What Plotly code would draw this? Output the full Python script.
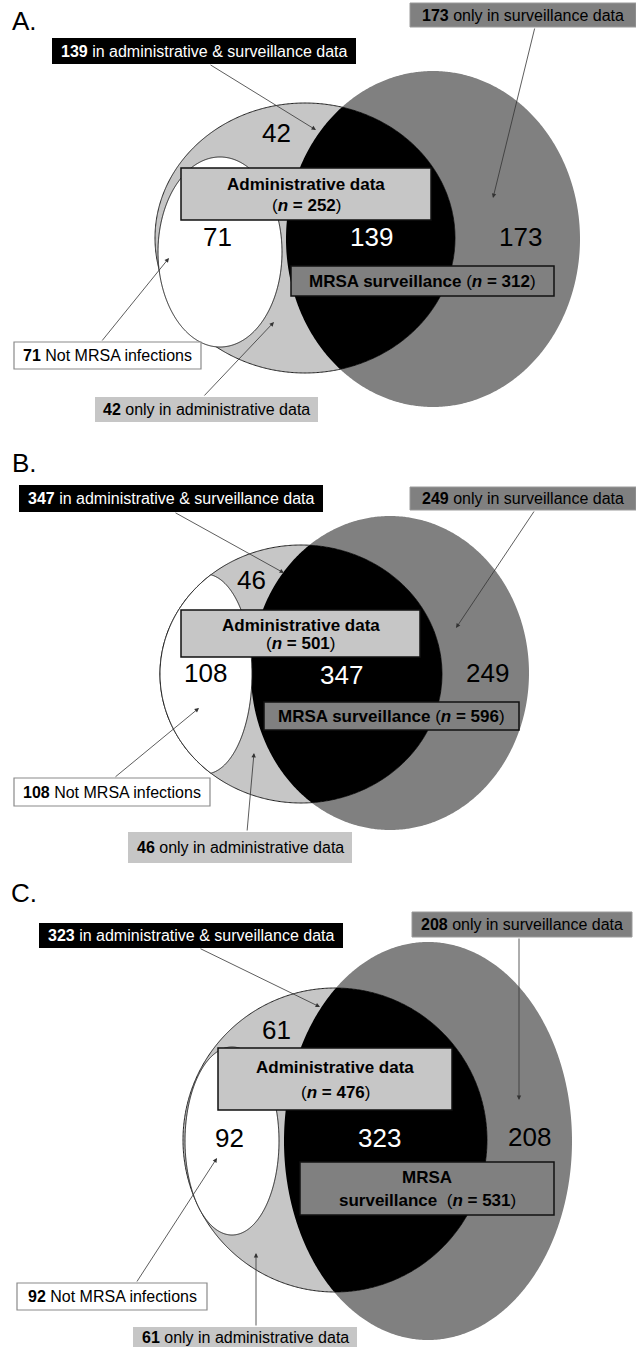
import numpy as np
import plotly.graph_objects as go

# ---------------- data ----------------
panel_labels = ["A.", "B.", "C."]
both_counts = [139, 347, 323]          # in administrative & surveillance data
surv_only_counts = [173, 249, 208]     # only in surveillance data
admin_only_counts = [42, 46, 61]       # only in administrative data
not_mrsa_counts = [71, 108, 92]        # not MRSA infections
admin_totals = [252, 501, 476]
surv_totals = [312, 596, 531]

# ---------------- layout geometry (pixels) ----------------
W, H = 636, 1347
GEOM = [
    dict(label=(24, 21),
         surv=(433, 239, 147, 168), admin=(305, 238, 150, 135), white=(220, 252, 62, 95), clip_white=False,
         n_admin=(276, 133), n_white=(217, 237), n_both=(371, 237), n_surv=(520, 237),
         box_both=(52, 38, 356, 64), box_surv=(410, 3, 636, 27),
         box_admin=(181, 168, 431, 220), box_mrsa=(291, 266, 554, 296), mrsa_split=False,
         box_white=(14, 342, 201, 369), box_aonly=(95, 397, 318, 422),
         arr_both=((209, 64), (316, 130)), arr_surv=((535, 27), (493, 198)),
         arr_white=((101, 342), (169, 258)), arr_aonly=((203, 397), (274, 322))),
    dict(label=(24, 463),
         surv=(390, 673, 139, 157), admin=(301, 674, 141, 129), white=(205, 674, 47, 100), clip_white=True,
         n_admin=(251, 580), n_white=(205, 673), n_both=(341, 675), n_surv=(487, 673),
         box_both=(19, 485, 323, 512), box_surv=(410, 487, 636, 510),
         box_admin=(181, 610, 420, 657), box_mrsa=(264, 702, 519, 730), mrsa_split=False,
         box_white=(14, 778, 210, 806), box_aonly=(128, 832, 352, 863),
         arr_both=((174, 512), (284, 573)), arr_surv=((535, 510), (456, 628)),
         arr_white=((114, 778), (199, 708)), arr_aonly=((247, 832), (254, 753))),
    dict(label=(24, 893),
         surv=(428, 1141, 144, 199), admin=(335, 1140, 152, 152), white=(232, 1141, 47, 94), clip_white=False,
         n_admin=(276, 1030), n_white=(229, 1138), n_both=(379, 1138), n_surv=(529, 1137),
         box_both=(39, 923, 343, 948), box_surv=(412, 912, 632, 937),
         box_admin=(218, 1048, 452, 1110), box_mrsa=(300, 1162, 554, 1215), mrsa_split=True,
         box_white=(17, 1283, 207, 1310), box_aonly=(133, 1327, 357, 1347),
         arr_both=((199, 948), (320, 1007)), arr_surv=((519, 937), (519, 1100)),
         arr_white=((136, 1283), (217, 1158)), arr_aonly=((256, 1327), (256, 1253))),
]

DARK = "#808080"
LIGHT = "#c6c6c6"
FONT = "Liberation Sans"
LINE = "#222222"
CALLOUT_SIZE = 16
BOX_SIZE = 17
COUNT_SIZE = 26


def ellipse_pts(e, n=720):
    cx, cy, rx, ry = e
    t = np.linspace(0, 2 * np.pi, n, endpoint=False)
    return np.c_[cx + rx * np.cos(t), cy + ry * np.sin(t)]


def inside(p, e):
    cx, cy, rx, ry = e
    return ((p[:, 0] - cx) / rx) ** 2 + ((p[:, 1] - cy) / ry) ** 2 <= 1.0


def intersect(e1, e2):
    p1, p2 = ellipse_pts(e1), ellipse_pts(e2)
    pts = np.vstack([p1[inside(p1, e2)], p2[inside(p2, e1)]])
    c = pts.mean(axis=0)
    ang = np.arctan2(pts[:, 1] - c[1], pts[:, 0] - c[0])
    return pts[np.argsort(ang)]


def to_path(pts):
    return "M " + " L ".join(f"{x:.2f},{y:.2f}" for x, y in pts) + " Z"


shapes, annots = [], []


def rect(b, fill, line_color=None, lw=1.0):
    shapes.append(dict(type="rect", x0=b[0], y0=b[1], x1=b[2], y1=b[3], xref="x", yref="y",
                       fillcolor=fill, line=dict(color=line_color or fill, width=lw if line_color else 0)))


def text(x, y, s, size, color="black"):
    annots.append(dict(x=x, y=y, xref="x", yref="y", text=s, showarrow=False,
                       font=dict(family=FONT, size=size, color=color), xanchor="center", yanchor="middle"))


def arrow(start, end, color="#333333"):
    annots.append(dict(x=end[0], y=end[1], ax=start[0], ay=start[1], xref="x", yref="y",
                       axref="x", ayref="y", text="", showarrow=True, arrowhead=2, arrowsize=1.1,
                       arrowwidth=0.8, arrowcolor=color, standoff=0, startstandoff=0))


for i, g in enumerate(GEOM):
    # regions
    shapes.append(dict(type="path", path=to_path(ellipse_pts(g["surv"])), fillcolor=DARK,
                       line=dict(width=0), xref="x", yref="y"))
    shapes.append(dict(type="path", path=to_path(ellipse_pts(g["admin"])), fillcolor=LIGHT,
                       line=dict(color=LINE, width=1), xref="x", yref="y"))
    shapes.append(dict(type="path", path=to_path(intersect(g["surv"], g["admin"])), fillcolor="black",
                       line=dict(width=0), xref="x", yref="y"))
    wpts = intersect(g["white"], g["admin"]) if g["clip_white"] else ellipse_pts(g["white"])
    shapes.append(dict(type="path", path=to_path(wpts), fillcolor="white",
                       line=dict(color=LINE, width=1), xref="x", yref="y"))

    # inside boxes
    rect(g["box_admin"], LIGHT, "#111111", 1.5)
    b = g["box_admin"]
    cx = (b[0] + b[2]) / 2
    h = b[3] - b[1]
    text(cx, b[1] + h * 0.32, "<b>Administrative data</b>", BOX_SIZE)
    text(cx, b[1] + h * 0.72, f"(<b><i>n</i> = {admin_totals[i]}</b>)", BOX_SIZE)

    rect(g["box_mrsa"], DARK, "#111111", 1.5)
    b = g["box_mrsa"]
    cx = (b[0] + b[2]) / 2
    h = b[3] - b[1]
    if g["mrsa_split"]:
        text(cx, b[1] + h * 0.3, "<b>MRSA</b>", BOX_SIZE)
        text(cx, b[1] + h * 0.72, f"<b>surveillance</b>  (<b><i>n</i> = {surv_totals[i]}</b>)", BOX_SIZE)
    else:
        text(cx, b[1] + h / 2, f"<b>MRSA surveillance</b> (<b><i>n</i> = {surv_totals[i]}</b>)", BOX_SIZE)

    # region counts
    text(*g["n_admin"], str(admin_only_counts[i]), COUNT_SIZE)
    text(*g["n_white"], str(not_mrsa_counts[i]), COUNT_SIZE)
    text(*g["n_both"], str(both_counts[i]), COUNT_SIZE, "white")
    text(*g["n_surv"], str(surv_only_counts[i]), COUNT_SIZE)

    # panel label
    text(*g["label"], panel_labels[i], 26)

    # callout boxes
    rect(g["box_both"], "black")
    b = g["box_both"]
    text((b[0] + b[2]) / 2, (b[1] + b[3]) / 2,
         f"<b>{both_counts[i]}</b> in administrative &amp; surveillance data", CALLOUT_SIZE, "white")
    rect(g["box_surv"], DARK, "#9a9a9a", 1)
    b = g["box_surv"]
    text((b[0] + b[2]) / 2, (b[1] + b[3]) / 2, f"<b>{surv_only_counts[i]}</b> only in surveillance data",
         CALLOUT_SIZE)
    rect(g["box_white"], "white", "#8a8a8a", 1.2)
    b = g["box_white"]
    text((b[0] + b[2]) / 2, (b[1] + b[3]) / 2, f"<b>{not_mrsa_counts[i]}</b> Not MRSA infections", CALLOUT_SIZE)
    rect(g["box_aonly"], LIGHT)
    b = g["box_aonly"]
    text((b[0] + b[2]) / 2, (b[1] + b[3]) / 2, f"<b>{admin_only_counts[i]}</b> only in administrative data",
         CALLOUT_SIZE)

    # leader lines
    arrow(*g["arr_both"])
    arrow(*g["arr_surv"])
    arrow(*g["arr_white"])
    arrow(*g["arr_aonly"])

fig = go.Figure()
fig.update_layout(
    width=W, height=H, margin=dict(l=0, r=0, t=0, b=0),
    paper_bgcolor="white", plot_bgcolor="white",
    xaxis=dict(range=[0, W], visible=False, fixedrange=True),
    yaxis=dict(range=[H, 0], visible=False, fixedrange=True),
    shapes=shapes, annotations=annots, showlegend=False,
)
fig.write_html("out.html", config={"displayModeBar": False})
